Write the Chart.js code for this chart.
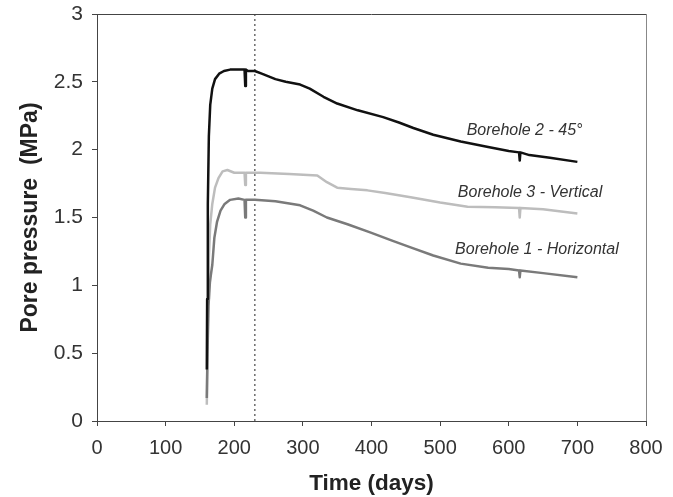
<!DOCTYPE html>
<html>
<head>
<meta charset="utf-8">
<script src="https://cdn.jsdelivr.net/npm/chart.js@4.4.1/dist/chart.umd.min.js"></script>
<style>
html,body{margin:0;padding:0;background:#fff;}
#wrap{width:673px;height:497px;}
</style>
</head>
<body>
<div id="wrap"><canvas id="c" width="673" height="497"></canvas></div>
<script>
// ---- data ----
const b2Days = [160,160.5,161.5,163,165,168,172,178,185,194,205,215,216,217,220,230,240,250,260,275,296,310,330,350,380,417,440,461,490,530,570,600,615,616,617,630,660,700];
const b2Pres = [0.38,0.9,1.6,2.1,2.33,2.45,2.52,2.56,2.58,2.59,2.59,2.59,2.47,2.59,2.58,2.58,2.56,2.54,2.52,2.5,2.48,2.45,2.39,2.34,2.29,2.24,2.2,2.16,2.11,2.06,2.02,1.99,1.98,1.92,1.98,1.96,1.94,1.91];

const b3Days = [160,161,162,163,165,168,172,177,183,190,200,215,216,217,230,238,280,321,335,350,370,394,420,457,500,540,580,615,616,617,650,700];
const b3Pres = [0.12,0.5,0.9,1.2,1.45,1.6,1.72,1.79,1.84,1.85,1.83,1.83,1.74,1.83,1.83,1.83,1.82,1.81,1.76,1.72,1.71,1.70,1.68,1.65,1.61,1.58,1.575,1.57,1.5,1.57,1.56,1.53];

const b1Days = [160,161,162.5,164.5,166,168,171,175,180,186,194,206,215,216,217,230,260,296,315,335,365,398,430,457,490,530,570,600,615,616,617,650,700];
const b1Pres = [0.17,0.5,0.85,1.02,1.08,1.15,1.35,1.47,1.55,1.6,1.63,1.64,1.63,1.5,1.63,1.63,1.62,1.59,1.55,1.5,1.45,1.39,1.33,1.28,1.22,1.16,1.13,1.12,1.11,1.06,1.11,1.09,1.06];

const markerDay = 230;
const xTicks = [0,100,200,300,400,500,600,700,800];
const yTicks = [0,0.5,1,1.5,2,2.5,3];

const seriesLabels = ['Borehole 2 - 45°','Borehole 3 - Vertical','Borehole 1 - Horizontal'];
const labelDays = [623,631,641];
const labelPres = [2.14,1.685,1.265];

// ---- build ----
const toXY = (d,p) => d.map((x,i)=>({x:x,y:p[i]}));
const FAM = '"Liberation Sans", Arial, sans-serif';

const labelPlugin = {
  id:'labels',
  afterDatasetsDraw(chart){
    const {ctx, chartArea:a, scales:{x,y}} = chart;
    ctx.save();
    ctx.lineWidth = 1;
    ctx.strokeStyle = '#444';
    ctx.beginPath(); ctx.moveTo(a.left, a.top+0.5); ctx.lineTo(a.right, a.top+0.5); ctx.stroke();
    ctx.strokeStyle = '#888';
    ctx.beginPath(); ctx.moveTo(a.right+0.5, a.top); ctx.lineTo(a.right+0.5, a.bottom); ctx.stroke();
    ctx.font = 'italic 16px ' + FAM;
    ctx.fillStyle = '#333';
    ctx.textAlign = 'center';
    ctx.textBaseline = 'middle';
    seriesLabels.forEach((t,i)=>{
      ctx.fillText(t, x.getPixelForValue(labelDays[i]), y.getPixelForValue(labelPres[i]));
    });
    ctx.restore();
  }
};

new Chart(document.getElementById('c'), {
  type:'line',
  data:{
    datasets:[
      {label:'marker', data:[{x:markerDay,y:yTicks[0]},{x:markerDay,y:yTicks[yTicks.length-1]}], borderColor:'#555', borderWidth:1.3, borderDash:[2,3], pointRadius:0, order:4},
      {label:seriesLabels[1], data:toXY(b3Days,b3Pres), borderColor:'#bdbdbd', borderWidth:2.5, pointRadius:0, order:3},
      {label:seriesLabels[2], data:toXY(b1Days,b1Pres), borderColor:'#7a7a7a', borderWidth:2.5, pointRadius:0, order:2},
      {label:seriesLabels[0], data:toXY(b2Days,b2Pres), borderColor:'#111', borderWidth:2.5, pointRadius:0, order:1}
    ]
  },
  options:{
    responsive:false,
    animation:false,
    devicePixelRatio:1,
    layout:{padding:{top:14,right:27,left:0,bottom:0}},
    plugins:{legend:{display:false},tooltip:{enabled:false}},
    elements:{line:{tension:0, borderCapStyle:'butt', borderJoinStyle:'round'}},
    scales:{
      x:{
        type:'linear', min:xTicks[0], max:xTicks[xTicks.length-1],
        afterBuildTicks(s){ s.ticks = xTicks.map(v=>({value:v})); },
        afterFit(s){ s.height = 76; },
        grid:{display:true, drawOnChartArea:false, tickLength:5, color:'#444'},
        border:{display:true, color:'#444', width:1},
        ticks:{font:{family:FAM, size:20}, color:'#333', padding:10, maxRotation:0, callback:v=>String(v)},
        title:{display:true, text:'Time (days)', font:{family:FAM, size:22.5, weight:'bold'}, color:'#222', padding:{top:0,bottom:0}}
      },
      y:{
        type:'linear', min:yTicks[0], max:yTicks[yTicks.length-1],
        afterBuildTicks(s){ s.ticks = yTicks.map(v=>({value:v})); },
        afterFit(s){ s.width = 97; s.paddingTop = 0; s.paddingBottom = 0; },
        grid:{display:true, drawOnChartArea:false, tickLength:5, color:'#444'},
        border:{display:true, color:'#444', width:1},
        ticks:{font:{family:FAM, size:21}, color:'#333', padding:9, callback:v=>String(v)},
        title:{display:true, text:'Pore pressure  (MPa)', font:{family:FAM, size:23, weight:'bold'}, color:'#222', padding:{top:17,bottom:0}}
      }
    }
  },
  plugins:[labelPlugin]
});
</script>
</body>
</html>
